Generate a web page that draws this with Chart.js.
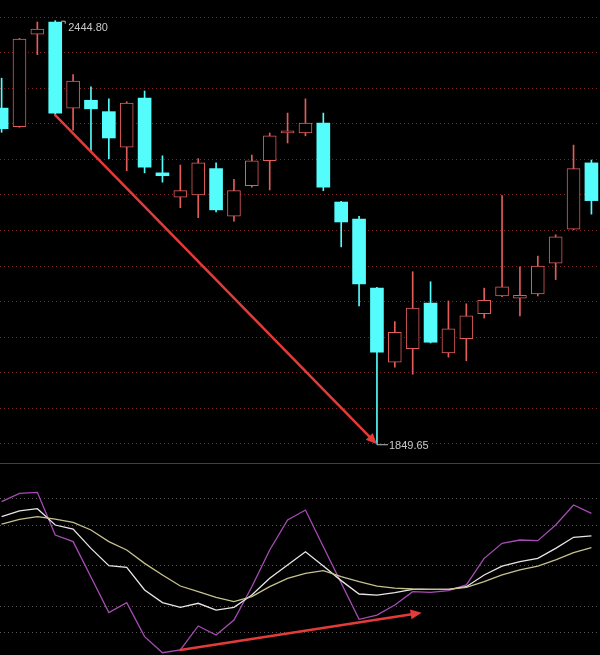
<!DOCTYPE html>
<html>
<head>
<meta charset="utf-8">
<script src="https://cdn.jsdelivr.net/npm/chart.js@4.4.0/dist/chart.umd.min.js"></script>
<style>
    html, body { margin: 0; padding: 0; background: #000; overflow: hidden; }
    #wrap { position: relative; width: 600px; height: 655px; background: #000; }
    #priceBox { position: absolute; left: 0; top: 0; width: 600px; height: 463px; }
    #sep { position: absolute; left: 0; top: 463px; width: 600px; height: 1px; background: #8e1e1e; }
    #kdjBox { position: absolute; left: 0; top: 464px; width: 600px; height: 191px; }
</style>
</head>
<body>
<div id="wrap">
    <div id="priceBox"><canvas id="priceChart"></canvas></div>
    <div id="sep"></div>
    <div id="kdjBox"><canvas id="kdjChart"></canvas></div>
</div>
<script>
// Candles (daily)
const OPEN  = [2322, 2296, 2426, 2443, 2322, 2333, 2317, 2267, 2336, 2231, 2197, 2200, 2237, 2170, 2213, 2248, 2287,
               2287, 2301, 2190, 2166, 2069, 1965, 1984, 2048, 1978, 1998, 2033, 2058, 2055, 2061, 2104, 2152, 2245];
const HIGH  = [2364, 2420, 2443, 2444.80, 2369, 2352, 2335, 2331, 2346, 2255, 2242, 2251, 2245, 2222, 2256, 2287, 2315,
               2335, 2315, 2191, 2170, 2070, 2022, 2092, 2078, 2051, 2047, 2069, 2199, 2099, 2114, 2144, 2270, 2249];
const LOW   = [2288, 2295, 2397, 2312, 2291, 2260, 2251, 2234, 2231, 2218, 2182, 2168, 2176, 2163, 2211, 2207, 2273,
               2283, 2206, 2127, 2044, 1849.65, 1958, 1948, 1992, 1972, 1967, 2027, 2057, 2030, 2058, 2081, 2151, 2173];
const CLOSE = [2293, 2419, 2433, 2315, 2360, 2321, 2280, 2329, 2239, 2227, 2206, 2245, 2179, 2206, 2248, 2283, 2290,
               2301, 2211, 2162, 2075, 1979, 2007, 2041, 1993, 2012, 2030, 2052, 2071, 2059, 2100, 2141, 2237, 2192];

// KDJ
const K = [86.2, 90.4, 92.1, 80, 77, 62.7, 49.9, 48.6, 31.9, 22.5, 19, 22, 17, 19, 28.1, 40.5, 50.4,
           60.2, 49.6, 38.8, 28.9, 28.1, 29.9, 32.3, 32.3, 32.3, 34.3, 43, 49.6, 52.8, 55.3, 62.7, 70.9, 71.9];
const D = [80.7, 84.2, 86.2, 84.4, 82, 76.3, 67.7, 61.5, 51.6, 43, 34.8, 30.6, 26.4, 23.2, 26.9, 34.3, 40.5,
           44.2, 46.2, 41.7, 38, 34.8, 33.3, 32.6, 32.3, 32.3, 33.8, 38, 43, 46.7, 49.6, 54.1, 59.5, 63.2];
const J = [97.3, 103.5, 104.2, 72.6, 67.7, 41.5, 15.1, 22.5, -2.7, -14.6, -12.6, 5.2, -1.5, 9.6, 34.3, 61.5, 83.7,
           91.1, 63.9, 37, 10.1, 13.3, 20.7, 30.6, 30.1, 31.4, 35.6, 55.3, 66.4, 68.9, 68.4, 80, 94.8, 88.6];

// Grid levels
const PRICE_GRID = [1850, 1900, 1950, 2000, 2050, 2100, 2150, 2200, 2250, 2300, 2350, 2400, 2450];
const KDJ_GRID = [0, 20, 50, 80, 100];

const RED = '#e25c5c';
const CYAN = '#54fcfc';
const ARROW = '#e43a3a';

const idx = OPEN.map((_, i) => i);
const isUp = i => CLOSE[i] >= OPEN[i];

function xAxis() {
    return { type: 'linear', min: -0.09, max: 33.48, offset: false, display: false };
}

function yAxis(min, max, levels, gridColor) {
    return {
        min: min,
        max: max,
        bounds: 'data',
        ticks: { display: false },
        grid: { color: gridColor, lineWidth: 1, drawTicks: false },
        border: { display: false, dash: [1, 3] },
        afterBuildTicks: axis => { axis.ticks = levels.map(v => ({ value: v })); }
    };
}

function drawArrow(ctx, x1, y1, x2, y2, width, head) {
    const a = Math.atan2(y2 - y1, x2 - x1);
    ctx.save();
    ctx.strokeStyle = ARROW;
    ctx.fillStyle = ARROW;
    ctx.lineWidth = width;
    ctx.lineCap = 'round';
    ctx.beginPath();
    ctx.moveTo(x1, y1);
    ctx.lineTo(x2 - Math.cos(a) * head * 0.6, y2 - Math.sin(a) * head * 0.6);
    ctx.stroke();
    ctx.beginPath();
    ctx.moveTo(x2, y2);
    ctx.lineTo(x2 - head * Math.cos(a) + head * 0.45 * Math.sin(a), y2 - head * Math.sin(a) - head * 0.45 * Math.cos(a));
    ctx.lineTo(x2 - head * Math.cos(a) - head * 0.45 * Math.sin(a), y2 - head * Math.sin(a) + head * 0.45 * Math.cos(a));
    ctx.closePath();
    ctx.fill();
    ctx.restore();
}

// Arrows and max / min labels
const notes = {
    id: 'notes',
    afterDatasetsDraw(chart, args, opts) {
        const ctx = chart.ctx;
        const x = chart.scales.x, y = chart.scales.y;
        (opts.arrows || []).forEach(a => {
            drawArrow(ctx, x.getPixelForValue(a.from[0]), y.getPixelForValue(a.from[1]),
                      x.getPixelForValue(a.to[0]), y.getPixelForValue(a.to[1]), a.width, a.head);
        });
        (opts.labels || []).forEach(l => {
            const px = x.getPixelForValue(l.at), py = y.getPixelForValue(l.value);
            ctx.save();
            ctx.strokeStyle = '#bdbdbd';
            ctx.fillStyle = '#c8c8c8';
            ctx.lineWidth = 1;
            ctx.font = '11px "Liberation Sans", Arial, sans-serif';
            ctx.textBaseline = 'middle';
            ctx.beginPath();
            if (l.side === 'high') {
                ctx.moveTo(px + 6, py + 0.5);
                ctx.lineTo(px + 10, py + 0.5);
                ctx.lineTo(px + 10, py + 3);
                ctx.stroke();
                ctx.fillText(l.text, px + 13, py + 7);
            } else {
                ctx.moveTo(px, py + 0.5);
                ctx.lineTo(px + 11, py + 0.5);
                ctx.stroke();
                ctx.fillText(l.text, px + 12, py + 2);
            }
            ctx.restore();
        });
    }
};

Chart.defaults.animation = false;
Chart.defaults.plugins.legend.display = false;
Chart.defaults.plugins.tooltip.enabled = false;

new Chart(document.getElementById('priceChart'), {
    type: 'bar',
    data: {
        datasets: [{
            data: idx.map(i => ({ x: i, y: [LOW[i], HIGH[i]] })),
            backgroundColor: idx.map(i => isUp(i) ? RED : CYAN),
            barThickness: 1,
            grouped: false,
            order: 2
        }, {
            data: idx.map(i => ({ x: i, y: [OPEN[i], CLOSE[i]] })),
            backgroundColor: idx.map(i => isUp(i) ? '#000' : CYAN),
            borderColor: idx.map(i => isUp(i) ? RED : CYAN),
            borderWidth: idx.map(i => isUp(i) ? 1 : 0),
            borderSkipped: false,
            barThickness: 13,
            grouped: false,
            order: 1
        }]
    },
    options: {
        responsive: true,
        maintainAspectRatio: false,
        layout: { padding: 0 },
        events: [],
        scales: {
            x: xAxis(),
            y: yAxis(1823.3, 2473.9, PRICE_GRID, '#7c2424')
        },
        plugins: {
            notes: {
                arrows: [{ from: [3, LOW[3]], to: [21, LOW[21]], width: 2.5, head: 11 }],
                labels: [
                    { at: 3, value: HIGH[3], text: HIGH[3].toFixed(2), side: 'high' },
                    { at: 21, value: LOW[21], text: LOW[21].toFixed(2), side: 'low' }
                ]
            }
        }
    },
    plugins: [notes]
});

new Chart(document.getElementById('kdjChart'), {
    type: 'line',
    data: {
        datasets: [
            { label: 'D', data: idx.map(i => ({ x: i, y: D[i] })), borderColor: '#c6c28e' },
            { label: 'K', data: idx.map(i => ({ x: i, y: K[i] })), borderColor: '#e6e6e6' },
            { label: 'J', data: idx.map(i => ({ x: i, y: J[i] })), borderColor: '#a64cb4' }
        ]
    },
    options: {
        responsive: true,
        maintainAspectRatio: false,
        layout: { padding: 0 },
        events: [],
        elements: {
            point: { radius: 0 },
            line: { borderWidth: 1.3, tension: 0 }
        },
        scales: {
            x: xAxis(),
            y: yAxis(-16.3, 125.2, KDJ_GRID, '#5e5656')
        },
        plugins: {
            notes: {
                arrows: [{ from: [10, J[10]], to: [23.5, 15], width: 2.5, head: 11 }]
            }
        }
    },
    plugins: [notes]
});
</script>
</body>
</html>
